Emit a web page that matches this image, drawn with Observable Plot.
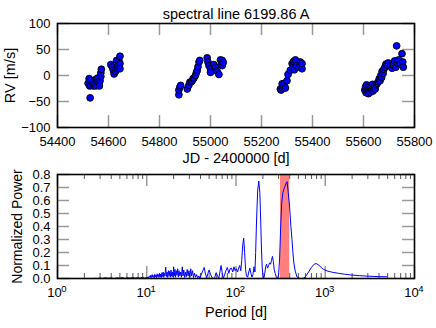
<!DOCTYPE html>
<html><head><meta charset="utf-8">
<script src="https://cdn.jsdelivr.net/npm/d3@7"></script>
<script src="https://cdn.jsdelivr.net/npm/@observablehq/plot@0.6"></script>
<style>
body{margin:0;background:#fff}
#chart{width:436px;height:328px;overflow:hidden}
#chart svg{display:block;overflow:visible}
</style>
</head><body><div id="chart"></div>
<script>
// ---------- data ----------
const title = "spectral line 6199.86 A";
const xLabelTop = "JD - 2400000 [d]";
const yLabelTop = "RV [m/s]";
const xLabelBottom = "Period [d]";
const yLabelBottom = "Normalized Power";

const jd = [
54520,54524,54526,54528,54528,54530,54537,54540,54543,54548,54550,54554,54557,54559,54563,54564,54567,54570,54570,54572,
54609,54615,54619,54622,54628,54632,54635,54637,54641,54645,54645,54645,
54876,54876,54880,54883,54909,54915,54919,54925,54928,54932,54935,54941,54945,54948,54951,54955,54958,
54987,54990,54994,55000,55000,55013,55020,55026,55033,55039,55042,55046,55046,55050,
55274,55277,55281,55285,55290,55294,55300,55304,55313,55320,55324,55326,55329,55333,55337,55346,55352,55359,55359,
55605,55608,55610,55612,55615,55617,55619,55622,55624,55627,55630,55632,55635,55637,55640,55643,55646,55650,55654,55658,
55662,55665,55668,55671,55673,55677,55680,55684,55688,55692,55697,55705,55712,55718,55722,55727,55730,55733,55738,55745,
55751,55754,55756];
const rv = [
-15,-6,-20,-43,-10,-19,-13,-20,-16,-8,-20,-10,-5,-13,-15,-20,-10,-2,5,12,
21,16,10,3,8,29,13,19,28,37,23,13,
-37,-28,-22,-19,-26,-19,-13,-12,-10,-6,-5,0,6,10,17,26,29,
34,26,19,13,6,21,16,8,2,30,21,29,19,25,
-26,-28,-16,-24,-15,-24,-10,2,10,23,16,27,11,30,19,16,26,13,23,
-28,-22,-33,-18,-30,-25,-35,-20,-28,-32,-22,-27,-17,-30,-24,-20,-26,-18,-15,-12,
-6,-10,0,-4,8,4,12,16,22,20,24,18,14,20,28,16,57,24,30,22,
42,26,16];

const period = [
2.6,2.8,3.0,3.2,3.4,3.7,4.0,4.3,4.6,5.0,5.3,5.7,6.1,6.5,6.9,7.4,7.9,8.4,8.9,9.5,
10.0,10.4,10.7,10.9,11.1,11.3,11.5,11.7,11.9,12.1,12.3,12.5,12.7,12.9,13.1,13.3,13.5,13.7,13.9,14.1,
14.3,14.5,14.8,15.0,15.3,15.5,15.8,16.0,16.3,16.6,16.9,17.2,17.5,17.8,18.1,18.4,18.7,19.0,19.4,19.7,
20.0,20.3,20.7,21.0,21.4,21.8,22.2,22.6,23.0,23.5,24.0,24.5,25.0,25.5,26.0,26.6,27.2,27.8,28.4,29.0,
29.7,30.4,31.1,31.8,32.6,33.4,34.3,35.2,36.2,37.2,38.3,39.5,41,42.5,44,45.5,47,48.5,50,52,
54,56,58,60,62,64,66,68,70,72,74,77,80,83,86,89,92,95,98,101,
104,107,110,113,116,119,122,125,128,131,135,139,143,147,151,155,159,163,166,170,
175,180,185,189,193,197,201,205,210,215,220,226,232,238,244,250,256,262,268,275,
283,291,300,308,316,325,335,345,355,365,374,385,399,412,424,434,445,460,482,510,
545,575,610,650,700,750,790,840,900,960,1050,1200,1400,1650,1950,2400,3000,3800,4900];
const power = [
0.002,0.0,0.004,0.001,0.006,0.002,0.005,0.0,0.006,0.002,0.008,0.001,0.007,0.002,0.009,0.003,0.008,0.002,0.01,0.003,
0.008,0.004,0.02,0.006,0.025,0.008,0.03,0.01,0.022,0.005,0.032,0.012,0.028,0.006,0.036,0.014,0.03,0.008,0.04,0.012,
0.034,0.006,0.045,0.015,0.05,0.01,0.04,0.02,0.088,0.015,0.05,0.008,0.06,0.02,0.055,0.01,0.065,0.018,0.05,0.012,
0.09,0.02,0.07,0.01,0.06,0.025,0.075,0.012,0.06,0.02,0.05,0.01,0.09,0.02,0.065,0.008,0.05,0.015,0.07,0.02,
0.06,0.01,0.075,0.02,0.06,0.008,0.04,0.01,0.03,0.005,0.02,0.0,0.035,0.06,0.085,0.035,0.005,0.04,0.065,0.03,
0.005,0.0,0.015,0.045,0.02,0.0,0.05,0.1,0.045,0.005,0.02,0.06,0.085,0.04,0.075,0.08,0.05,0.09,0.06,0.075,
0.05,0.08,0.1,0.06,0.14,0.26,0.31,0.2,0.07,0.02,0.01,0.05,0.08,0.04,0.01,0.03,0.09,0.05,0.2,0.45,
0.68,0.75,0.66,0.45,0.22,0.08,0.02,0.0,0.04,0.09,0.11,0.08,0.1,0.12,0.11,0.14,0.17,0.13,0.07,0.04,
0.01,0.0,0.03,0.15,0.38,0.58,0.66,0.69,0.71,0.735,0.745,0.66,0.55,0.4,0.3,0.2,0.12,0.06,0.012,0.002,
0.0,0.003,0.02,0.05,0.085,0.11,0.115,0.105,0.085,0.07,0.058,0.048,0.04,0.033,0.027,0.022,0.018,0.015,0.013];

const band = [315, 400];

const jdTicks = [54400,54600,54800,55000,55200,55400,55600,55800];
const rvTicks = [-100,-50,0,50,100];
const periodTicks = [1,10,100,1000,10000];
const periodExp = ["0","1","2","3","4"];
const powerTicks = [0,0.1,0.2,0.3,0.4,0.5,0.6,0.7,0.8];

// ---------- layout ----------
const W = 436, ML = 57, MR = 22;
const FW = W - ML - MR;
const font = "'Liberation Sans', Arial, Helvetica, sans-serif";
const tickFont = 13, labelFont = 14.5;
const majorLen = 12, minorLen = 5;
const majorStroke = "#999", minorStroke = "#555";
const mid = {textAnchor: "middle", lineAnchor: "middle"};

const minorTicks = [];
for (const dec of [1,10,100,1000]) for (let k = 2; k <= 9; k++) minorTicks.push(dec*k);

function frameTicksX(ticks, FH, len, stroke, sw) {
  return [
    Plot.tickX(ticks, {x: d => d, insetTop: FH - len, stroke, strokeWidth: sw}),
    Plot.tickX(ticks, {x: d => d, insetBottom: FH - len, stroke, strokeWidth: sw})
  ];
}
function frameTicksY(ticks, len, stroke, sw) {
  return [
    Plot.tickY(ticks, {y: d => d, insetRight: FW - len, stroke, strokeWidth: sw}),
    Plot.tickY(ticks, {y: d => d, insetLeft: FW - len, stroke, strokeWidth: sw})
  ];
}

// ---------- top panel ----------
const H1 = 166, MT1 = 23, MB1 = 39, FH1 = H1 - MT1 - MB1;
const rvData = jd.map((d, i) => ({jd: d, rv: rv[i]}));
const topPanel = Plot.plot({
  width: W, height: H1, marginLeft: ML, marginRight: MR, marginTop: MT1, marginBottom: MB1,
  style: {fontFamily: font, fontSize: tickFont + "px", background: "white", color: "black", overflow: "visible"},
  x: {domain: [54400, 55800], label: null},
  y: {domain: [-100, 100], label: null},
  marks: [
    ...frameTicksX(jdTicks, FH1, majorLen, majorStroke, 1.5),
    ...frameTicksY(rvTicks, majorLen, majorStroke, 1.5),
    Plot.dot(rvData, {x: "jd", y: "rv", r: 3.4, fill: "#0000ff", stroke: "black", strokeWidth: 0.9}),
    Plot.frame({stroke: "black", strokeWidth: 1.6}),
    Plot.axisX(jdTicks, {tickSize: 0, tickPadding: 9, tickFormat: d => String(d), fontSize: tickFont, label: null}),
    Plot.axisY(rvTicks, {tickSize: 0, tickPadding: 7, fontSize: tickFont, label: null}),
    Plot.text([title], {frameAnchor: "top", dy: -9, fontSize: labelFont, ...mid}),
    Plot.text([xLabelTop], {frameAnchor: "bottom", dy: 31, fontSize: labelFont, ...mid}),
    Plot.text([yLabelTop], {frameAnchor: "left", dx: -47, rotate: -90, fontSize: labelFont, ...mid})
  ]
});

// ---------- bottom panel ----------
const H2 = 162, MT2 = 8, MB2 = 50, FH2 = H2 - MT2 - MB2;
const pgData = period.map((p, i) => ({p, pow: power[i]}));
const bottomPanel = Plot.plot({
  width: W, height: H2, marginLeft: ML, marginRight: MR, marginTop: MT2, marginBottom: MB2,
  style: {fontFamily: font, fontSize: tickFont + "px", background: "white", color: "black", overflow: "visible"},
  x: {type: "log", domain: [1, 10000], axis: null},
  y: {domain: [0, 0.8], label: null},
  marks: [
    Plot.rect([band], {x1: d => d[0], x2: d => d[1], fill: "#ff0000", fillOpacity: 0.5}),
    ...frameTicksX(periodTicks, FH2, majorLen, majorStroke, 1.5),
    ...frameTicksX(minorTicks, FH2, minorLen, minorStroke, 1),
    ...frameTicksY(powerTicks, majorLen, majorStroke, 1.5),
    Plot.line(pgData, {x: "p", y: "pow", stroke: "#0000ff", strokeWidth: 1}),
    Plot.frame({stroke: "black", strokeWidth: 1.6}),
    Plot.axisY(powerTicks, {tickSize: 0, tickPadding: 7, tickFormat: d3.format(".1f"), fontSize: tickFont, label: null}),
    Plot.text(periodTicks, {x: d => d, text: () => "10", frameAnchor: "bottom", dy: 14.5, dx: -3, fontSize: tickFont, ...mid}),
    Plot.text(periodTicks, {x: d => d, text: (d, i) => periodExp[i], frameAnchor: "bottom", dy: 10.5, dx: 6.5, fontSize: 9.5, ...mid}),
    Plot.text([xLabelBottom], {frameAnchor: "bottom", dy: 34, fontSize: labelFont, ...mid}),
    Plot.text([yLabelBottom], {frameAnchor: "left", dx: -40, rotate: -90, fontSize: 14, ...mid})
  ]
});

const root = document.getElementById("chart");
root.append(topPanel, bottomPanel);
</script>
</body></html>
